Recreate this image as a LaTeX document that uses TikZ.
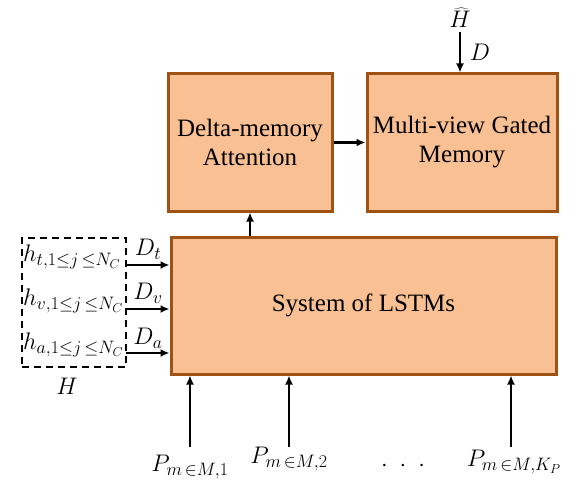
\RequirePackage{fix-cm}
\documentclass[tikz,border=0pt]{standalone}
\usepackage{fontspec}
\setmainfont{Liberation Serif}
\DeclareMathSizes{24}{24}{18}{13}
\usetikzlibrary{arrows.meta,calc}
\definecolor{boxfill}{RGB}{249,193,147}
\definecolor{boxline}{RGB}{160,82,20}
\begin{document}
\begin{tikzpicture}[x=1pt,y=-1pt,
  blk/.style={draw=boxline,fill=boxfill,line width=3pt,align=center,inner sep=0pt,
    font=\fontsize{25}{29}\selectfont},
  arr/.style={line width=2.4pt,-{Latex[length=9pt,width=8pt]}},
  lbl/.style={inner sep=0pt,font=\fontsize{24}{27}\selectfont}]
\useasboundingbox (0,0) rectangle (580,492);
\node[blk,minimum width=164pt,minimum height=137pt] (dm) at (250,142.5) {Delta-memory\\Attention};
\node[blk,minimum width=190pt,minimum height=137pt] (mv) at (462,142.5) {Multi-view Gated\\Memory};
\node[blk,minimum width=385pt,minimum height=137pt] (ls) at (363.5,305.5) {System of LSTMs};
\node[draw,dashed,line width=1.5pt,dash pattern=on 7pt off 5pt,minimum width=104pt,minimum height=129pt,inner sep=0pt] (hb) at (74,302.5) {};
\node[lbl] (H) at (67,386) {$H$};
\node[lbl,anchor=west] (ht) at (23,257) {$h_{t,1{\le}j\,{\le}N_C}$};
\node[lbl,anchor=west] (hv) at (23,301) {$h_{v,1{\le}j\,{\le}N_C}$};
\node[lbl,anchor=west] (ha) at (23,345) {$h_{a,1{\le}j\,{\le}N_C}$};
\coordinate (st) at (126,265);
\coordinate (sv) at (126,309);
\coordinate (sa) at (126,353);
\draw[arr] (st) -- (st -| ls.west);
\draw[arr] (sv) -- (sv -| ls.west);
\draw[arr] (sa) -- (sa -| ls.west);
\node[lbl] (dt) at (148,249) {$D_t$};
\node[lbl] (dv) at (148,293) {$D_v$};
\node[lbl] (da) at (148,338) {$D_a$};
\draw[arr] (ls.north -| dm.south) -- (dm.south);
\draw[arr] (dm.east) -- (mv.west);
\node[lbl] (hh) at (460,18) {$\widehat{H}$};
\draw[arr] ($(hh.south)+(0,4)$) -- (hh.south |- mv.north);
\node[lbl] (D) at (480,52) {$D$};
\node[lbl] (p1) at (190,467) {$P_{m\,{\in}M,1}$};
\node[lbl] (p2) at (289,459) {$P_{m\,{\in}M,2}$};
\node[lbl] (p3) at (514,462) {$P_{m\,{\in}M,K_P}$};
\node[lbl] (dots) at (403,466) {$\cdot\;\cdot\;\cdot$};
\coordinate (b1) at (190,447);
\coordinate (b2) at (289,447);
\coordinate (b3) at (511,447);
\draw[arr] (b1) -- (b1 |- ls.south);
\draw[arr] (b2) -- (b2 |- ls.south);
\draw[arr] (b3) -- (b3 |- ls.south);
\end{tikzpicture}
\end{document}
